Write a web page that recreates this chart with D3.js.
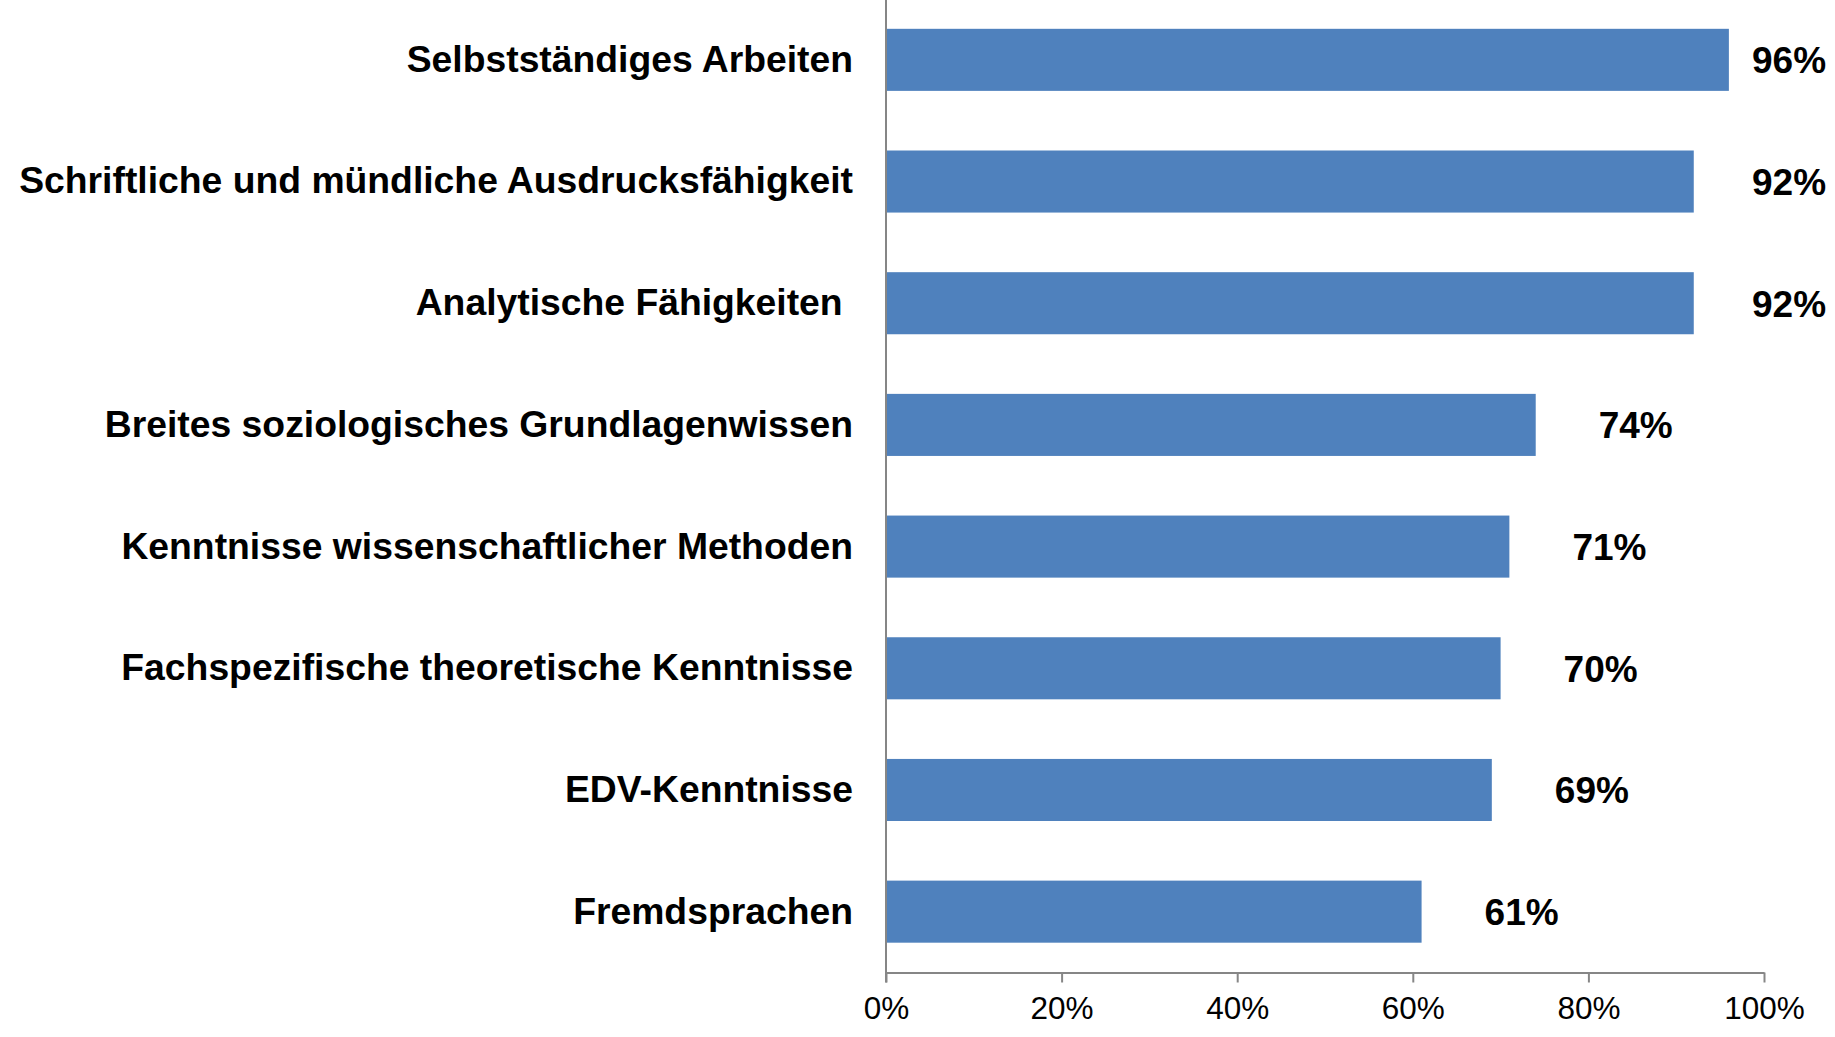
<!DOCTYPE html>
<html><head><meta charset="utf-8">
<script src="https://cdn.jsdelivr.net/npm/d3@7"></script>
<style>html,body{margin:0;padding:0;background:#fff;} svg{display:block;}</style>
</head><body>
<script>
const categories = [
  "Selbstständiges Arbeiten",
  "Schriftliche und mündliche Ausdrucksfähigkeit",
  "Analytische Fähigkeiten ",
  "Breites soziologisches Grundlagenwissen",
  "Kenntnisse wissenschaftlicher Methoden",
  "Fachspezifische theoretische Kenntnisse",
  "EDV-Kenntnisse",
  "Fremdsprachen"
];
const values = [96, 92, 92, 74, 71, 70, 69, 61];
const tickValues = [0, 20, 40, 60, 80, 100];
const tickLabels = ["0%", "20%", "40%", "60%", "80%", "100%"];

const W = 1835, H = 1037;
const x0 = 886, x1 = 1764, yTop = -1, yBot = 972.5;
const FONT = "'Liberation Sans', Arial, sans-serif";
const svg = d3.select("body").append("svg").attr("width", W).attr("height", H);

const x = d3.scaleLinear().domain([0, 100]).range([x0, x1]);
const y = d3.scaleBand().domain(categories).range([yTop, yBot]).paddingInner(0.49).paddingOuter(0.245);

// bars
svg.selectAll("rect.bar").data(values).enter().append("rect")
  .attr("class", "bar")
  .attr("x", x(0))
  .attr("y", (d, i) => y(categories[i]))
  .attr("width", d => x(d) - x(0))
  .attr("height", y.bandwidth())
  .attr("fill", "#4F81BD");

// bottom axis
const xAxis = d3.axisBottom(x).tickValues(tickValues).tickFormat((d, i) => tickLabels[i]).tickSizeInner(10).tickSizeOuter(0).tickPadding(14);
const gx = svg.append("g").attr("transform", `translate(0,${yBot})`).call(xAxis);
gx.select(".domain").attr("stroke", "#868686").attr("stroke-width", 2);
gx.selectAll(".tick line").attr("stroke", "#868686").attr("stroke-width", 2);
gx.selectAll(".tick text").attr("font-family", FONT).attr("font-size", 31.5).attr("fill", "#000");

// left axis line
const yAxis = d3.axisLeft(y).tickSize(0).tickPadding(33);
const gy = svg.append("g").attr("transform", `translate(${x0},0)`).call(yAxis);
gy.select(".domain").attr("stroke", "#868686").attr("stroke-width", 2).attr("d", `M0,${yTop}V${yBot + 10}`);
gy.selectAll(".tick text")
  .attr("font-family", FONT)
  .attr("font-size", 37.3).attr("font-weight", "bold").attr("fill", "#000")
  .style("white-space", "pre");

// value labels
svg.selectAll("text.val").data(values).enter().append("text")
  .attr("class", "val")
  .attr("x", d => Math.min(x(d) + 63, 1752))
  .attr("y", (d, i) => y(categories[i]) + y.bandwidth() / 2)
  .attr("dy", "0.36em")
  .attr("font-family", FONT)
  .attr("font-size", 37).attr("font-weight", "bold").attr("fill", "#000")
  .text(d => d + "%");
</script>
</body></html>
